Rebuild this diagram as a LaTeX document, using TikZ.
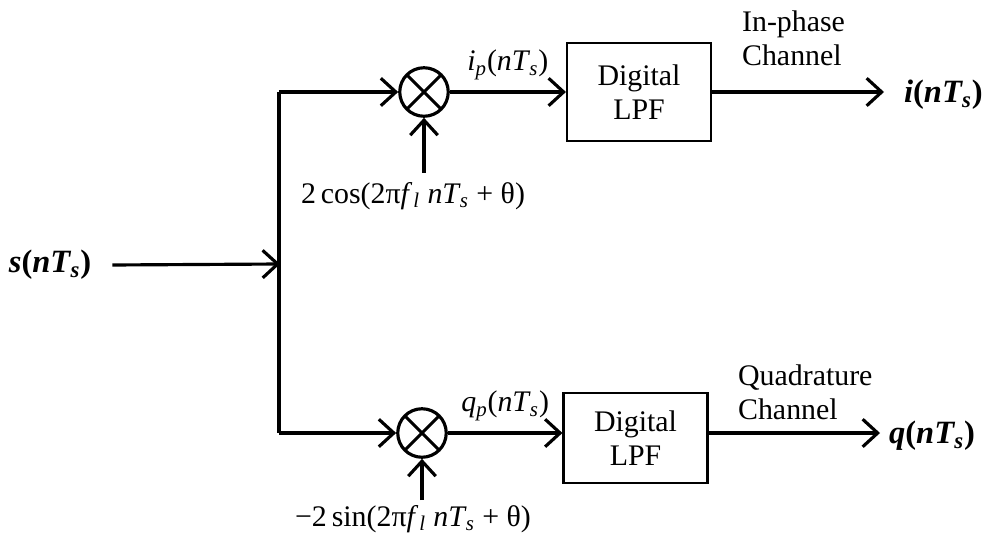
\documentclass[tikz,border=0pt]{standalone}
\usepackage{fontspec}
\setmainfont{Liberation Serif}
\usepackage{tikz}
\usetikzlibrary{arrows.meta, positioning, calc}
\newcommand{\nts}{\textit{nT}\kern-0.5pt\textsubscript{\textit{s}}}
\tikzstyle{arrow} = [line width=1.8pt,-{Straight Barb[length=3mm,width=5.5mm,line width=1.8pt]}]
\tikzstyle{wire} = [line width=1.8pt]
\tikzstyle{block} = [rectangle, draw, line width=1.2pt, minimum width=2.88cm, minimum height=1.96cm, align=center, font=\fontsize{17}{19}\selectfont]
\tikzstyle{mixer} = [circle, draw, line width=1.8pt, minimum size=0.97cm, inner sep=0pt,
  path picture={\draw[line width=1.8pt] (path picture bounding box.north west) -- (path picture bounding box.south east)
    (path picture bounding box.north east) -- (path picture bounding box.south west);}]
\tikzstyle{lbl} = [font=\fontsize{17}{19}\selectfont, inner sep=1pt]
\tikzstyle{sig} = [font=\fontsize{18.5}{20}\selectfont\bfseries, inner sep=1pt]

\begin{document}
\begin{tikzpicture}
    \useasboundingbox (0,0) rectangle (19.7,10.88);
    \node (in) [sig, inner xsep=0.42cm] at (1.0,5.58) {\textit{s}(\nts)};
    \coordinate (split) at (5.6,5.6);
    \coordinate (topc) at (5.58,9.04);
    \coordinate (botc) at (5.58,2.22);

    \node (mixi) [mixer] at (8.48,9.04) {};
    \node (mixq) [mixer] at (8.44,2.22) {};
    \node (lpfi) [block] at (12.78,9.04) {Digital\\LPF};
    \node (lpfq) [block, minimum height=1.8cm] at (12.71,2.12) {Digital\\LPF};

    \coordinate (cos) at (8.48,7.42);
    \coordinate (sin) at (8.44,0.88);
    \node (coslbl) [lbl] at (8.26,6.96) {2\,cos(2π\textit{f}\kern0.5pt\textsubscript{\textit{l}} \nts{} + θ)};
    \node (sinlbl) [lbl] at (8.26,0.5) {−2\,sin(2π\textit{f}\kern0.5pt\textsubscript{\textit{l}} \nts{} + θ)};

    \coordinate (outi) at (17.68,9.04);
    \coordinate (outq) at (17.6,2.22);
    \node (iout) [sig, anchor=west] at (18.04,8.98) {\textit{i}(\nts)};
    \node (qout) [sig, anchor=west] at (17.74,2.16) {\textit{q}(\nts)};
    \node (ichan) [lbl, anchor=north west, align=left] at (14.8,10.7) {In-phase\\Channel};
    \node (qchan) [lbl, anchor=north west, align=left] at (14.72,3.62) {Quadrature\\Channel};

    \draw [arrow] (in.east) -- (split);
    \draw [wire] (topc) -- (botc);
    \draw [arrow] (topc) -- (mixi);
    \draw [arrow] (botc) -- (mixq);
    \draw [arrow] (cos) -- (mixi);
    \draw [arrow] (sin) -- (mixq);
    \draw [arrow] (mixi) -- node[lbl, above=5pt] {\textit{i}\textsubscript{\textit{p}}(\nts)} (lpfi);
    \draw [arrow] (mixq) -- node[lbl, above=5pt] {\textit{q}\textsubscript{\textit{p}}(\nts)} (lpfq.west |- mixq);
    \draw [arrow] (lpfi) -- (outi);
    \draw [arrow] (lpfq.east |- mixq) -- (outq);
\end{tikzpicture}
\end{document}
